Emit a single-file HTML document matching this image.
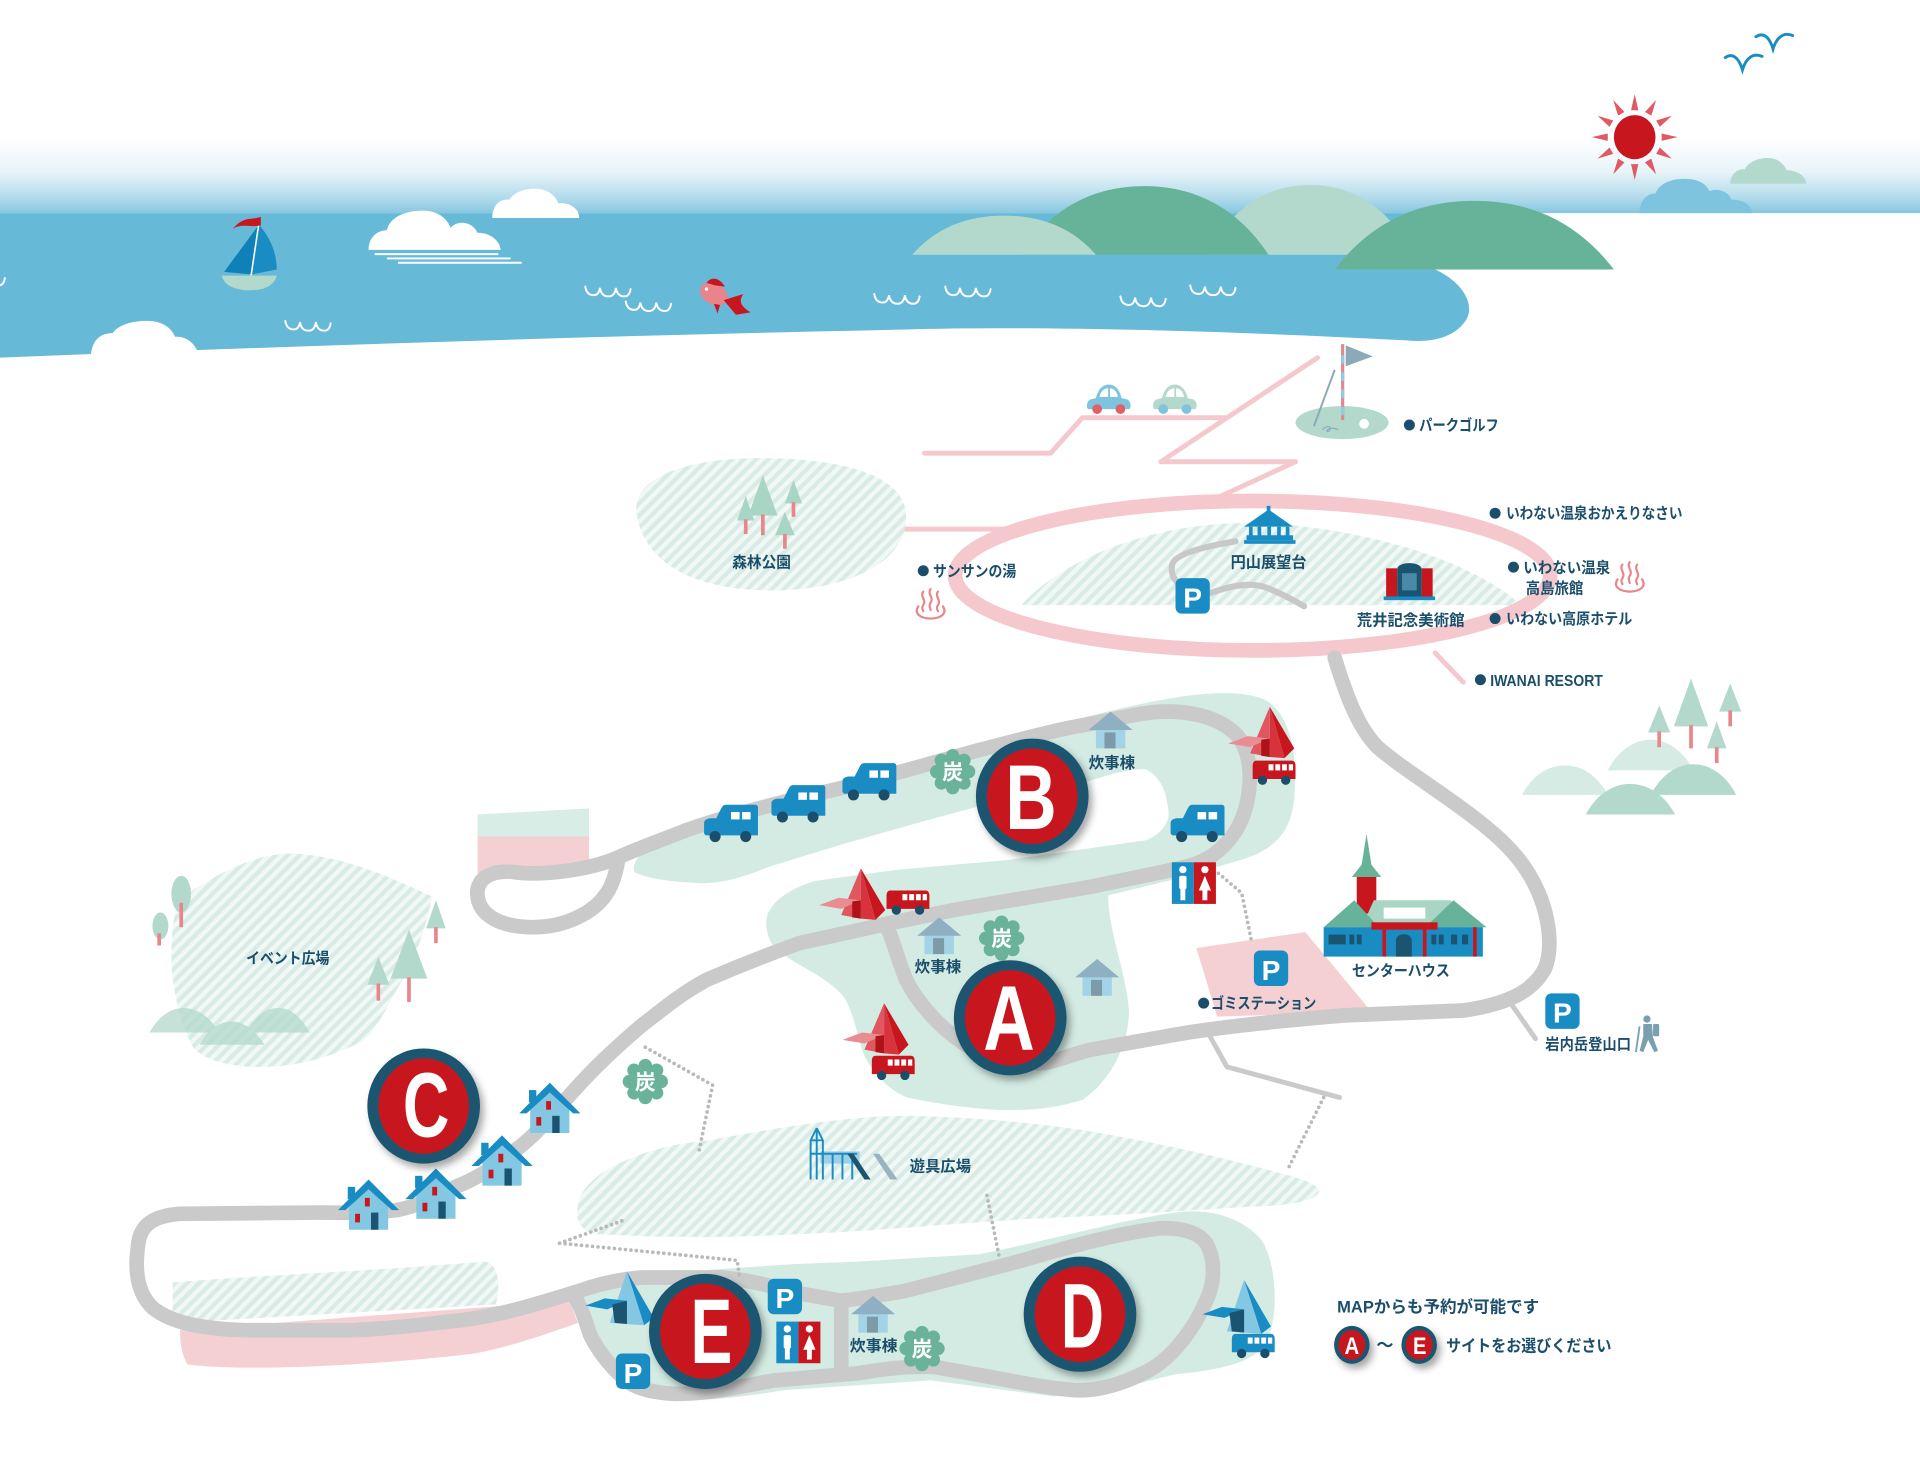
<!DOCTYPE html>
<html><head><meta charset="utf-8">
<style>
html,body{margin:0;padding:0;background:#fff;}
svg{display:block;}
text{font-family:"Liberation Sans","Noto Sans CJK JP",sans-serif;font-weight:bold;}
</style></head><body>
<svg width="1920" height="1460" viewBox="0 0 1568 1192" preserveAspectRatio="none" xmlns="http://www.w3.org/2000/svg">
<defs>
 <linearGradient id="sky" x1="0" y1="0" x2="0" y2="1">
  <stop offset="0" stop-color="#ffffff"/>
  <stop offset="0.45" stop-color="#e8f4f9"/>
  <stop offset="0.8" stop-color="#b2dbeb"/>
  <stop offset="1" stop-color="#86c7e0"/>
 </linearGradient>
 <pattern id="hatch" patternUnits="userSpaceOnUse" width="7" height="7" patternTransform="rotate(45)">
  <rect width="7" height="7" fill="#f1f8f5"/><rect width="3.5" height="7" fill="#d8ece5"/>
 </pattern>
 <filter id="sh" x="-30%" y="-30%" width="160%" height="160%">
  <feDropShadow dx="3" dy="4" stdDeviation="3" flood-color="#000" flood-opacity="0.35"/>
 </filter>
 <path id="wv" d="M0,0 Q1,7 7,7 Q11,7 12,1 Q13,8 19,8 Q24,8 25,1 Q26,8 32,8 Q36,8 37,2" fill="none" stroke="#fff" stroke-width="1.6" stroke-linecap="round"/>
 <g id="camper">
  <path d="M10,12 L14,4 C15,2 16,1 18,1 L42,1 C43,1 44,2 44,3 L44,26 L2,26 C1,26 0,25 0,24 L0,16 C0,13 3,12 6,12 Z" fill="#1a8cc4"/>
  <rect x="22" y="7" width="7" height="6" fill="#fff"/><rect x="31" y="7" width="7" height="6" fill="#fff"/>
  <circle cx="9" cy="27" r="4.5" fill="#1b4e6b"/><circle cx="34" cy="27" r="4.5" fill="#1b4e6b"/>
 </g>
 <g id="bus">
  <path d="M3,0 H32 C34,0 35,2 35,4 V15 H0 V4 C0,2 1,0 3,0Z"/>
  <rect x="13" y="3" width="4" height="5" fill="#fff"/><rect x="18.5" y="3" width="4" height="5" fill="#fff"/><rect x="24" y="3" width="4" height="5" fill="#fff"/><rect x="29.5" y="3" width="3.5" height="5" fill="#fff"/>
  <circle cx="8" cy="16" r="3.8" fill="#1b4e6b"/><circle cx="27" cy="16" r="3.8" fill="#1b4e6b"/>
 </g>
 <g id="tentR">
  <path d="M34,0 L54,34 L46,42 Z" fill="#c8161e"/>
  <path d="M34,0 L46,42 L34,41 Z" fill="#d8333d"/>
  <path d="M34,0 L34,41 L18,38 Z" fill="#e0575f"/>
  <path d="M0,30 L16,24 L34,26 L18,33 Z" fill="#ea8d93"/>
  <path d="M27,27 L34,26 L34,41 L27,40 Z" fill="#b0121a"/>
 </g>
 <g id="tentB">
  <path d="M34,0 L56,38 L48,44 Z" fill="#1a8cc4"/>
  <path d="M34,0 L48,44 L20,42 Z" fill="#84c7e2"/>
  <path d="M0,28 L16,22 L34,24 L18,31 Z" fill="#1a8cc4"/>
  <path d="M22,27 L34,24 L34,43 L24,42 Z" fill="#1b5470"/>
 </g>
 <g id="cabin">
  <path d="M9,21 L25,7 L41,21 L41,41 L9,41 Z" fill="#84c7e2"/>
  <rect x="8" y="6" width="6" height="10" fill="#1a8cc4"/>
  <path d="M25,0 L50,25 L44,25 L25,8 L6,25 L0,25 Z" fill="#1a8cc4"/>
  <rect x="22" y="15" width="4" height="7" fill="#c8161e"/>
  <rect x="14" y="28" width="4" height="7" fill="#c8161e"/>
  <rect x="27" y="27" width="6" height="14" fill="#1b5470"/>
 </g>
 <g id="kitchen">
  <rect x="6" y="13" width="24" height="17" fill="#a3d3e6"/>
  <path d="M18,0 L36,15 L0,15 Z" fill="#8fb0c2"/>
  <rect x="13" y="17" width="9" height="13" fill="#7d9aa8"/>
 </g>
 <g id="toilet">
  <rect x="0" y="0" width="18" height="34" fill="#1a8cc4"/>
  <rect x="18" y="0" width="18" height="34" fill="#c8161e"/>
  <g fill="#fff">
   <circle cx="9" cy="6" r="3"/><rect x="6" y="11" width="6" height="11" rx="1.5"/><rect x="7" y="21" width="4" height="10"/>
   <circle cx="27" cy="6" r="3"/><path d="M27,11 L32,23 L22,23 Z"/><rect x="25" y="22" width="4" height="9"/>
  </g>
 </g>
 <g id="pk">
  <rect x="0" y="0" width="28" height="29" rx="5" fill="#1a8cc4"/>
  <text x="14" y="24" font-size="23" text-anchor="middle" fill="#fff">P</text>
 </g>
 <g id="sumi">
  <g fill="#6ab39a">
   <circle r="14"/><circle cx="13" cy="0" r="5.5"/><circle cx="9.2" cy="9.2" r="5.5"/><circle cx="0" cy="13" r="5.5"/><circle cx="-9.2" cy="9.2" r="5.5"/><circle cx="-13" cy="0" r="5.5"/><circle cx="-9.2" cy="-9.2" r="5.5"/><circle cx="0" cy="-13" r="5.5"/><circle cx="9.2" cy="-9.2" r="5.5"/>
  </g>
  <text x="0" y="6.5" font-size="17" text-anchor="middle" fill="#fff">炭</text>
 </g>
 <g id="car">
  <path d="M2,20 C0,20 0,13 4,12 L8,11 C10,3 14,0 18.5,0 C23,0 27,3 29,11 L33,12 C37,13 37,20 35,20 Z"/>
  <path d="M11,10 C12,5 15,3 18,3 L18,10 Z M19.5,10 L19.5,3 C22,3 25,5 26,10 Z" fill="#fff"/>
 </g>
 <path id="ray" d="M-3,-22 L0,-35 L3,-22 Z" fill="#e05a62"/>
 <g id="onsen" fill="none" stroke="#e8868c" stroke-width="1.8" stroke-linecap="round">
  <path d="M-6,-11 c-3,4 3,7 0,11 c-2,3 0,4 0,5"/>
  <path d="M0,-13 c-3,4 3,7 0,11 c-2,3 0,5 0,6"/>
  <path d="M6,-11 c-3,4 3,7 0,11 c-2,3 0,4 0,5"/>
  <path d="M-10,1 C-14,7 -8,11 0,11 C8,11 14,7 10,1"/>
 </g>
</defs>

<!-- SKY -->
<rect x="0" y="112" width="1568" height="62" fill="url(#sky)"/>
<path d="M1339,174 C1339,165 1344,158 1352,158 C1355,150 1364,146 1376,146 C1388,146 1394,151 1396,156 C1404,153 1412,157 1414,163 C1424,163 1431,168 1431,174 Z" fill="#7fc4de"/>
<path d="M1413,150 C1413,143 1418,138 1425,138 C1428,132 1436,129 1444,129 C1452,129 1457,134 1459,139 C1468,139 1475,144 1475,150 Z" fill="#b3d9cc"/>

<!-- SEA -->
<path d="M0,174 H1200 V220 L1170,219 C1195,230 1204,248 1198,260 C1190,274 1172,280 1150,278 C1000,270 850,266 740,269 C500,274 250,282 0,292 Z" fill="#67b9d8"/>
<path d="M985,208 C1007,168 1036,151 1070,151 C1104,151 1133,168 1155,208Z" fill="#b3d9cc"/>
<path d="M833,208 C859,169 894,152 934.5,152 C975,152 1010,169 1036,208Z" fill="#67b39a"/>
<path d="M745,208 C764.5,185.6 790,176 820,176 C850,176 875.5,185.6 895,208Z" fill="#b3d9cc"/>
<path d="M1090,220 C1120,181 1158,164 1204,164 C1250,164 1288,181 1318,220Z" fill="#67b39a"/>

<!-- clouds -->
<path d="M301,204 C301,194 308,188 316,188 C318,178 330,172 345,172 C357,172 365,178 368,186 C373,180 385,180 390,190 C400,190 408,196 409,204 Z" fill="#fff"/>
<g stroke="#fff" stroke-width="1.6"><line x1="306" y1="207.5" x2="407" y2="207.5"/><line x1="316" y1="211" x2="417" y2="211"/><line x1="325" y1="214.5" x2="426" y2="214.5"/></g>
<path d="M402,178 C402,168 408,162 416,163 C420,157 428,154 437,154 C447,154 454,160 456,166 C465,165 473,170 473,178 Z" fill="#fff"/>
<path d="M74,294 C74,280 80,272 92,272 C96,266 106,262 120,262 C133,262 140,268 143,275 C153,274 162,282 163,294 Z" fill="#fff"/>

<!-- waves -->
<use href="#wv" transform="translate(-33,225)"/>
<use href="#wv" transform="translate(233,262)"/>
<use href="#wv" transform="translate(478,234)"/>
<use href="#wv" transform="translate(511,246)"/>
<use href="#wv" transform="translate(714,240)"/>
<use href="#wv" transform="translate(772,234)"/>
<use href="#wv" transform="translate(915,242)"/>
<use href="#wv" transform="translate(972,233)"/>

<!-- boat -->
<path d="M181,225 H226 C224,233 216,237 204,237 C192,237 183,233 181,225 Z" fill="#b3d9cc"/>
<path d="M211,184 L183,222 L205,224 Z" fill="#0f80b8"/>
<path d="M212,184 C222,196 226,208 226,220 L206,224 Z" fill="#1a8cc4"/>
<line x1="212" y1="178" x2="205" y2="225" stroke="#fff" stroke-width="1.2"/>
<path d="M213,177 C205,180 199,176 190,187 C197,182 204,186 213,184 Z" fill="#c8161e"/>
<!-- fish -->
<ellipse cx="583" cy="240" rx="12" ry="8.5" transform="rotate(28 583 240)" fill="#e8848c"/>
<path d="M577,231 C581,225 588,227 592,234 L584,233 Z" fill="#c8161e"/>
<path d="M591,245 L607,240 C603,246 605,250 613,255 L601,257 Z" fill="#c8161e"/>
<path d="M583,248 L588,249 L586,256 Z" fill="#c8161e"/>
<circle cx="577" cy="236" r="1.4" fill="#fff"/>

<!-- sun -->
<g transform="translate(1335,112)">
 <use href="#ray"/><use href="#ray" transform="rotate(30)"/><use href="#ray" transform="rotate(60)"/><use href="#ray" transform="rotate(90)"/><use href="#ray" transform="rotate(120)"/><use href="#ray" transform="rotate(150)"/><use href="#ray" transform="rotate(180)"/><use href="#ray" transform="rotate(210)"/><use href="#ray" transform="rotate(240)"/><use href="#ray" transform="rotate(270)"/><use href="#ray" transform="rotate(300)"/><use href="#ray" transform="rotate(330)"/>
 <ellipse cx="0" cy="0" rx="17" ry="18" fill="#c8161e"/>
</g>
<g fill="none" stroke="#1a8cc4" stroke-width="2.4" stroke-linecap="round">
 <path d="M1409,47 C1415,43 1420,47 1423,57 C1426,47 1432,43 1439,46"/>
 <path d="M1434,30 C1440,26 1445,30 1448,40 C1451,30 1457,26 1464,29"/>
</g>

<!-- PINK LINES -->
<g fill="none" stroke="#f4c8cc" stroke-width="4" stroke-linecap="round" stroke-linejoin="round">
 <polyline points="755,370 858,370 884,341 1002,341"/>
 <polyline points="1076,292 948,377 1058,377 997,405"/>
 <line x1="735" y1="432" x2="840" y2="432"/>
 <line x1="1172" y1="533" x2="1195" y2="557"/>
</g>

<!-- golf -->
<ellipse cx="1096" cy="345" rx="38" ry="13.5" fill="#b3d9cc"/>
<line x1="1090" y1="302" x2="1073" y2="348" stroke="#8aaab8" stroke-width="1.6"/>
<line x1="1096.5" y1="281" x2="1096.5" y2="343" stroke="#e8868c" stroke-width="2.6"/>
<line x1="1096.5" y1="290" x2="1096.5" y2="343" stroke="#8fcbe3" stroke-width="2.6" stroke-dasharray="7 7"/>
<path d="M1099,282 L1121,291 L1099,299 Z" fill="#8aaab8"/>
<circle cx="1114" cy="346" r="4" fill="#fff"/>
<path d="M1080,351 c3,-4 8,-3 6,0 c-2,3 -4,0 0,-1 c3,-1 5,0 7,1" fill="none" stroke="#8aaab8" stroke-width="1"/>
<use href="#car" transform="translate(887,314)" fill="#7fc4de"/>
<circle cx="896" cy="334" r="4" fill="#e06068"/><circle cx="915" cy="334" r="4" fill="#e06068"/>
<use href="#car" transform="translate(941,314)" fill="#b3d9cc"/>
<circle cx="950" cy="334" r="4" fill="#7fc4de"/><circle cx="969" cy="334" r="4" fill="#7fc4de"/>

<!-- forest park -->
<path d="M520,420 C515,390 560,374 620,374 C680,374 738,385 740,420 C742,455 700,482 630,482 C560,482 525,455 520,420 Z" fill="url(#hatch)"/>
<!-- ellipse area -->
<path d="M834,494 C870,455 940,428 1015,427 C1100,427 1200,455 1242,494 Z" fill="url(#hatch)"/>
<ellipse cx="1023" cy="470" rx="243" ry="61" fill="none" stroke="#f4c8cc" stroke-width="12"/>
<g fill="none" stroke="#c8c8c8" stroke-width="5" stroke-linecap="round">
 <path d="M1009,442 C985,446 958,452 957,462 C956,470 960,474 963,477"/>
 <path d="M989,484 C1000,480 1020,474 1035,480 C1050,486 1060,492 1065,495"/>
</g>

<!-- event plaza -->
<path d="M146,735 C180,710 215,695 243,697 C280,700 310,712 353,732 C345,770 335,790 324,808 C310,835 300,850 292,852 C260,868 230,872 205,871 C180,870 160,862 156,852 C145,830 140,800 140,781 C140,760 142,745 146,735 Z" fill="url(#hatch)"/>
<!-- playground plaza -->
<path d="M473,980 C480,955 530,935 579,931 C650,918 700,911 742,911 C800,912 860,918 904,926 C960,936 1010,948 1046,958 C1070,964 1080,970 1077,974 C1070,982 1050,984 1026,985 C970,988 920,992 864,994 C800,997 750,1002 701,1005 C650,1008 600,1010 579,1010 C530,1010 490,1008 482,1007 C470,1000 470,990 473,980 Z" fill="url(#hatch)"/>
<path d="M141,1047 C200,1042 300,1038 395,1030 C405,1030 410,1045 405,1065 L141,1080 Z" fill="url(#hatch)"/>
<path d="M147,1086 L465,1062 L472,1080 C430,1095 400,1104 380,1106 C300,1115 200,1120 153,1114 C148,1105 147,1095 147,1086 Z" fill="#f5d0d3"/>

<!-- green camp areas -->
<path d="M518,712 C515,700 530,690 560,680 L700,636 L820,602 L900,582 C950,570 1000,560 1030,570 C1055,580 1060,620 1057,650 C1055,680 1040,695 1010,703 L967,716 L905,731 C905,760 920,795 922,825 C922,850 910,880 884,898 C860,906 830,908 800,905 C770,902 750,898 741,896 C725,890 712,875 705,860 C700,845 698,830 690,815 C675,795 640,785 630,770 C625,760 625,752 627,746 C632,735 645,725 667,719 L734,710 L824,702 L936,686 C950,680 956,670 954,660 C952,645 948,635 936,628 C915,628 900,635 891,637 L841,651 L797,659 L756,670 L689,689 L627,708 C610,715 590,722 570,721 C550,720 530,718 518,712 Z" fill="#d3ebe3"/>
<path d="M470,1060 C480,1048 510,1040 560,1038 L650,1032 L700,1030 L800,1024 C860,1012 920,995 960,990 C990,986 1015,995 1030,1012 C1042,1030 1045,1070 1035,1095 C1025,1112 1000,1118 960,1122 C920,1132 890,1140 860,1140 L760,1127 L640,1135 C600,1142 560,1145 540,1142 C515,1138 495,1120 485,1100 C478,1085 472,1072 470,1060 Z" fill="#d3ebe3"/>

<path d="M390,665 L481,660 L481,684 L390,684 Z" fill="#d8ede5"/>
<rect x="390" y="683" width="91" height="30" fill="#f5d0d3"/>
<path d="M977,774 L1066,761 L1120,826 L994,830 Z" fill="#f5d0d3"/>

<!-- ROADS -->
<g fill="none" stroke="#cacaca" stroke-width="12" stroke-linecap="round" stroke-linejoin="round">
 <path d="M560,678 C600,664 650,652 689,643 L801,612 C840,602 870,594 891,591 C920,585 940,580 958,581 C980,582 998,588 1010,600 C1020,612 1022,630 1020,645 C1018,665 1010,680 1000,690 C990,700 980,705 967,708 C940,714 915,719 891,724 L779,743 L725,754 C700,760 675,765 653,770 C625,780 600,790 577,800 C555,812 540,825 523,838 C500,858 485,872 469,890 C455,905 440,925 421,939 C405,952 390,962 372,969 C355,978 340,985 324,988 C300,991 280,990 260,990 L146,991 C125,993 115,1000 113,1015 C110,1035 111,1055 125,1068 C140,1080 165,1085 200,1086 L290,1086 C330,1084 355,1080 376,1078 C400,1075 420,1070 440,1064 C460,1058 470,1055 482,1051 C495,1047 510,1044 525,1043 L589,1043 C615,1045 635,1052 653,1056 L687,1062 C705,1060 720,1057 739,1054 L824,1032 C860,1022 905,1008 946,1003 C962,1002 978,1005 985,1015 C993,1028 992,1048 985,1062 C975,1085 958,1108 938,1119 C915,1131 895,1136 877,1135 C855,1133 840,1130 824,1127 L763,1116 C740,1115 720,1118 702,1121 L632,1127 C605,1132 580,1138 551,1138 C530,1137 515,1132 508,1124 C495,1112 487,1100 482,1090 C478,1078 475,1068 470,1060"/>
 <path d="M687,1062 L687,1118"/>
 <path d="M560,678 C540,686 520,693 505,700 C480,711 440,715 420,712 C400,710 388,718 390,732 C392,748 410,757 435,757 C462,757 485,745 495,730 C502,720 504,708 505,700"/>
 <path d="M1090,537 C1100,570 1110,595 1125,610 C1150,632 1200,660 1230,690 C1265,725 1270,770 1262,790 C1252,810 1230,820 1195,825 L1098,829 C1060,832 1000,838 964,844 L891,857 C870,862 858,869 846,868 C820,864 800,860 792,855 C770,842 750,820 740,800 C734,785 730,770 725,758"/>
</g>
<g fill="none" stroke="#cacaca" stroke-width="4" stroke-linecap="round" stroke-linejoin="round">
 <path d="M1233,818 L1254,848"/>
 <path d="M987,844 L1002,871 L1094,896"/>
</g>
<g fill="none" stroke="#b9b9b9" stroke-width="3" stroke-linecap="round" stroke-dasharray="0 4.5">
 <path d="M995,713 L1014,729 L1022,768"/>
 <path d="M527,855 L582,886 L571,939"/>
 <path d="M457,1015 L510,996"/>
 <path d="M457,1015 L602,1029 L604,1043"/>
 <path d="M806,976 L816,1026"/>
 <path d="M1081,896 L1052,954"/>
</g>

<!-- trees: forest -->
<g fill="#a9d5c5">
 <path d="M609,405 L616,425 L602,425 Z"/><path d="M623,388 L635,421 L611,421 Z"/><path d="M648,392 L655,411 L641,411 Z"/><path d="M641,418 L649,437 L633,437 Z"/>
</g>
<g stroke="#e8868c" stroke-width="3">
 <line x1="609" y1="424" x2="609" y2="436"/><line x1="623" y1="420" x2="623" y2="437"/><line x1="648" y1="410" x2="648" y2="422"/><line x1="641" y1="436" x2="641" y2="448"/>
</g>
<!-- trees: event plaza -->
<g fill="#b3d9cc">
 <ellipse cx="148" cy="730" rx="8" ry="15"/><ellipse cx="131" cy="756" rx="6.5" ry="11"/>
 <path d="M356,735 L364,758 L348,758 Z"/><path d="M309,781 L318,804 L300,804 Z"/><path d="M334,759 L349,799 L319,799 Z"/>
</g>
<g stroke="#e8868c" stroke-width="3">
 <line x1="148" y1="737" x2="148" y2="757"/><line x1="130" y1="762" x2="130" y2="772"/><line x1="356" y1="757" x2="356" y2="770"/><line x1="309" y1="803" x2="309" y2="817"/><line x1="334" y1="798" x2="334" y2="818"/>
</g>
<g fill="#b3d9cc" opacity="0.75">
 <path d="M122,843 C130,829 140,823 150,823 C160,823 171,829 179,843Z"/>
 <path d="M201,843 C209,829 217,823 227,823 C237,823 245,829 253,843Z"/>
 <path d="M163,853 C170,840 180,834 189,834 C198,834 208,840 216,853Z"/>
</g>
<!-- right hills & trees -->
<path d="M1243,649 C1252,632 1265,625 1278,625 C1291,625 1304,632 1313,649Z" fill="#d5ebe3"/>
<path d="M1313,629 C1322,612 1335,604 1348,604 C1361,604 1374,612 1383,629Z" fill="#d5ebe3"/>
<path d="M1295,665 C1304,648 1318,640 1331,640 C1345,640 1359,648 1368,665Z" fill="#b3d9cc"/>
<path d="M1348,649 C1357,632 1370,624 1383,624 C1396,624 1409,632 1418,649Z" fill="#b3d9cc"/>
<g fill="#b3d9cc">
 <path d="M1355,576 L1364,598 L1346,598 Z"/><path d="M1381,554 L1395,593 L1367,593 Z"/><path d="M1413,558 L1422,581 L1404,581 Z"/><path d="M1402,589 L1410,611 L1394,611 Z"/>
</g>
<g stroke="#e8868c" stroke-width="3">
 <line x1="1355" y1="597" x2="1355" y2="610"/><line x1="1381" y1="592" x2="1381" y2="611"/><line x1="1413" y1="580" x2="1413" y2="593"/><line x1="1402" y1="610" x2="1402" y2="623"/>
</g>

<!-- gazebo -->
<g fill="#1a8cc4">
 <rect x="1034.5" y="413" width="3" height="5"/>
 <path d="M1036,416 L1056,430 L1016,430 Z"/>
 <rect x="1020" y="430" width="3" height="8"/><rect x="1027" y="430" width="3" height="8"/><rect x="1035" y="430" width="3" height="8"/><rect x="1043" y="430" width="3" height="8"/><rect x="1050" y="430" width="3" height="8"/>
 <rect x="1018" y="437" width="38" height="4"/><rect x="1016" y="441" width="42" height="3"/>
</g>
<!-- museum -->
<rect x="1132" y="464" width="9" height="25" fill="#c8161e"/>
<rect x="1161" y="464" width="9" height="25" fill="#c8161e"/>
<path d="M1141,489 V465 C1141,458 1161,458 1161,465 V489 Z" fill="#1b5470"/>
<rect x="1145" y="468" width="12" height="14" fill="#4a8aa8"/>
<rect x="1130" y="487" width="42" height="3" fill="#1a8cc4"/>
<use href="#onsen" transform="translate(760,494)"/>
<use href="#onsen" transform="translate(1331,472)"/>

<!-- icons -->
<use href="#camper" transform="translate(575,656)"/>
<use href="#camper" transform="translate(630,640)"/>
<use href="#camper" transform="translate(688,622)"/>
<use href="#camper" transform="translate(956,656)"/>
<use href="#kitchen" transform="translate(889,581)"/>
<use href="#kitchen" transform="translate(749,749)"/>
<use href="#kitchen" transform="translate(878,783)"/>
<use href="#kitchen" transform="translate(695,1058)"/>
<use href="#tentR" transform="translate(669,709)"/>
<use href="#bus" transform="translate(724,727)" fill="#c8161e"/>
<use href="#tentR" transform="translate(1003,577)"/>
<use href="#bus" transform="translate(1023,621)" fill="#c8161e"/>
<use href="#tentR" transform="translate(688,819)"/>
<use href="#bus" transform="translate(712,862)" fill="#c8161e"/>
<use href="#toilet" transform="translate(957,704)"/>
<use href="#toilet" transform="translate(634,1079)"/>
<use href="#sumi" transform="translate(778,630)"/>
<use href="#sumi" transform="translate(818,766)"/>
<use href="#sumi" transform="translate(527,883)"/>
<use href="#sumi" transform="translate(753,1101)"/>
<use href="#cabin" transform="translate(424,884)"/>
<use href="#cabin" transform="translate(385,927)"/>
<use href="#cabin" transform="translate(331,954)"/>
<use href="#cabin" transform="translate(276,963)"/>
<use href="#tentB" transform="translate(478,1038)"/>
<use href="#tentB" transform="translate(982,1045)"/>
<use href="#bus" transform="translate(1006,1089)" fill="#1a8cc4"/>
<use href="#pk" transform="translate(960,472)"/>
<use href="#pk" transform="translate(1024,776)"/>
<use href="#pk" transform="translate(1262,811)"/>
<use href="#pk" transform="translate(627,1044)"/>
<use href="#pk" transform="translate(503,1105)"/>

<!-- playground -->
<path d="M670,940 L702,940 L702,950 L670,950 Z" fill="#9fd1e6"/>
<g stroke="#1a8cc4" stroke-width="1.6" fill="none">
 <path d="M667,921 L662,931 L662,963 M667,921 L672,931 L672,963 M662,931 H672 M667,921 V963"/>
 <path d="M662,942 H700 M680,942 V963 M688,942 V963 M696,942 V963"/>
</g>
<path d="M692,942 L697,942 L711,963 L706,963 Z" fill="#1b5470"/>
<path d="M713,942 L718,942 L733,963 L727,963 Z" fill="#9ab3c0"/>

<!-- center house -->
<path d="M1116,681 L1112,706 L1104,716 L1128,716 L1120,706 Z" fill="#67b39a"/>
<rect x="1108" y="716" width="16" height="30" fill="#c8161e"/>
<path d="M1122,735 L1185,735 L1196,757 L1112,757 Z" fill="#a9d5c5"/>
<rect x="1130" y="741" width="34" height="9" fill="#fff"/>
<path d="M1106,735 L1081,757 L1126,757 Z" fill="#67b39a"/>
<path d="M1187,735 L1164,757 L1214,757 Z" fill="#67b39a"/>
<rect x="1081" y="757" width="130" height="24" fill="#1a8cc4"/>
<rect x="1120" y="753" width="54" height="6" fill="#c8161e"/>
<g fill="#1b5470">
 <rect x="1085" y="763" width="14" height="8"/><rect x="1102" y="763" width="4" height="8"/><rect x="1108" y="763" width="4" height="8"/>
 <path d="M1140,781 V768 C1140,761 1153,761 1153,768 V781 Z"/>
 <rect x="1169" y="763" width="4" height="8"/><rect x="1175" y="763" width="4" height="8"/><rect x="1185" y="763" width="5" height="8"/><rect x="1194" y="763" width="5" height="8"/>
</g>
<g fill="#c8161e"><rect x="1129" y="757" width="3" height="24"/><rect x="1162" y="757" width="3" height="24"/><rect x="1203" y="757" width="3" height="24"/></g>
<g fill="#7a9fb0">
 <circle cx="1345" cy="832" r="3"/>
 <path d="M1342,836 L1349,836 L1350,847 L1354,858 L1351,859 L1346,849 L1342,859 L1339,858 L1342,846 Z"/>
 <rect x="1350" y="836" width="5" height="10" rx="1"/>
</g>
<line x1="1339" y1="838" x2="1336" y2="859" stroke="#7a9fb0" stroke-width="1.5"/>

<!-- SITE CIRCLES -->
<g filter="url(#sh)">
 <ellipse cx="843" cy="650" rx="46" ry="47" fill="#1b5470"/>
 <ellipse cx="825" cy="831" rx="46" ry="47" fill="#1b5470"/>
 <ellipse cx="346" cy="903" rx="46" ry="47" fill="#1b5470"/>
 <ellipse cx="576" cy="1087" rx="46" ry="47" fill="#1b5470"/>
 <ellipse cx="882" cy="1073" rx="46" ry="47" fill="#1b5470"/>
</g>
<g fill="#c8161e">
 <ellipse cx="843" cy="650" rx="37" ry="39"/>
 <ellipse cx="825" cy="831" rx="37" ry="39"/>
 <ellipse cx="346" cy="903" rx="37" ry="39"/>
 <ellipse cx="576" cy="1087" rx="37" ry="39"/>
 <ellipse cx="882" cy="1073" rx="37" ry="39"/>
</g>
<g fill="#fff" font-size="75" text-anchor="middle">
 <text x="842" y="677" textLength="42" lengthAdjust="spacingAndGlyphs">B</text>
 <text x="824" y="857" textLength="42" lengthAdjust="spacingAndGlyphs">A</text>
 <text x="348" y="928" textLength="38" lengthAdjust="spacingAndGlyphs">C</text>
 <text x="581" y="1113" textLength="34" lengthAdjust="spacingAndGlyphs">E</text>
 <text x="884" y="1100" textLength="35" lengthAdjust="spacingAndGlyphs">D</text>
</g>

<!-- LABELS -->
<g fill="#1b4e6b" font-size="12.5">
 <circle cx="1151" cy="347" r="4.5"/><text x="1159" y="351.5" textLength="65" lengthAdjust="spacingAndGlyphs">パークゴルフ</text>
 <circle cx="1221" cy="419" r="4.5"/><text x="1230" y="423.5" textLength="144" lengthAdjust="spacingAndGlyphs">いわない温泉おかえりなさい</text>
 <circle cx="754" cy="466" r="4.5"/><text x="762" y="470.5" textLength="68" lengthAdjust="spacingAndGlyphs">サンサンの湯</text>
 <circle cx="1236" cy="463" r="4.5"/><text x="1244" y="468" textLength="71" lengthAdjust="spacingAndGlyphs">いわない温泉</text>
 <text x="1246" y="484.5" textLength="47" lengthAdjust="spacingAndGlyphs">高島旅館</text>
 <circle cx="1221" cy="505" r="4.5"/><text x="1230" y="509.5" textLength="103" lengthAdjust="spacingAndGlyphs">いわない高原ホテル</text>
 <circle cx="1209" cy="555" r="4.5"/><text x="1217" y="560" textLength="92" lengthAdjust="spacingAndGlyphs">IWANAI RESORT</text>
 <text x="1005" y="463.5" textLength="62" lengthAdjust="spacingAndGlyphs">円山展望台</text>
 <text x="1108" y="510.5" textLength="88" lengthAdjust="spacingAndGlyphs">荒井記念美術館</text>
 <text x="598" y="463.5" textLength="48" lengthAdjust="spacingAndGlyphs">森林公園</text>
 <text x="889" y="627" textLength="38" lengthAdjust="spacingAndGlyphs">炊事棟</text>
 <text x="747" y="793.5" textLength="38" lengthAdjust="spacingAndGlyphs">炊事棟</text>
 <text x="694" y="1103" textLength="39" lengthAdjust="spacingAndGlyphs">炊事棟</text>
 <circle cx="983" cy="819" r="4.5"/><text x="989" y="823.5" textLength="86" lengthAdjust="spacingAndGlyphs">ゴミステーション</text>
 <text x="1104" y="797" textLength="80" lengthAdjust="spacingAndGlyphs">センターハウス</text>
 <text x="1262" y="857" textLength="70" lengthAdjust="spacingAndGlyphs">岩内岳登山口</text>
 <text x="201" y="786.5" textLength="68" lengthAdjust="spacingAndGlyphs">イベント広場</text>
 <text x="743" y="956.5" textLength="50" lengthAdjust="spacingAndGlyphs">遊具広場</text>
 <text x="1092" y="1071.5" font-size="13.5" textLength="165" lengthAdjust="spacingAndGlyphs">MAPからも予約が可能です</text>
 <text x="1124" y="1103" font-size="14">～</text>
 <text x="1181" y="1103.5" font-size="13.5" textLength="135" lengthAdjust="spacingAndGlyphs">サイトをお選びください</text>
</g>
<g filter="url(#sh)">
 <ellipse cx="1104" cy="1098" rx="14.5" ry="15.5" fill="#1b5470"/>
 <ellipse cx="1159" cy="1098" rx="14.5" ry="15.5" fill="#1b5470"/>
</g>
<ellipse cx="1104" cy="1098" rx="11" ry="12" fill="#c8161e"/>
<ellipse cx="1159" cy="1098" rx="11" ry="12" fill="#c8161e"/>
<g fill="#fff" font-size="20" text-anchor="middle">
 <text x="1104" y="1105.5" textLength="12" lengthAdjust="spacingAndGlyphs">A</text>
 <text x="1159.5" y="1105.5" textLength="11" lengthAdjust="spacingAndGlyphs">E</text>
</g>
</svg>
</body></html>
